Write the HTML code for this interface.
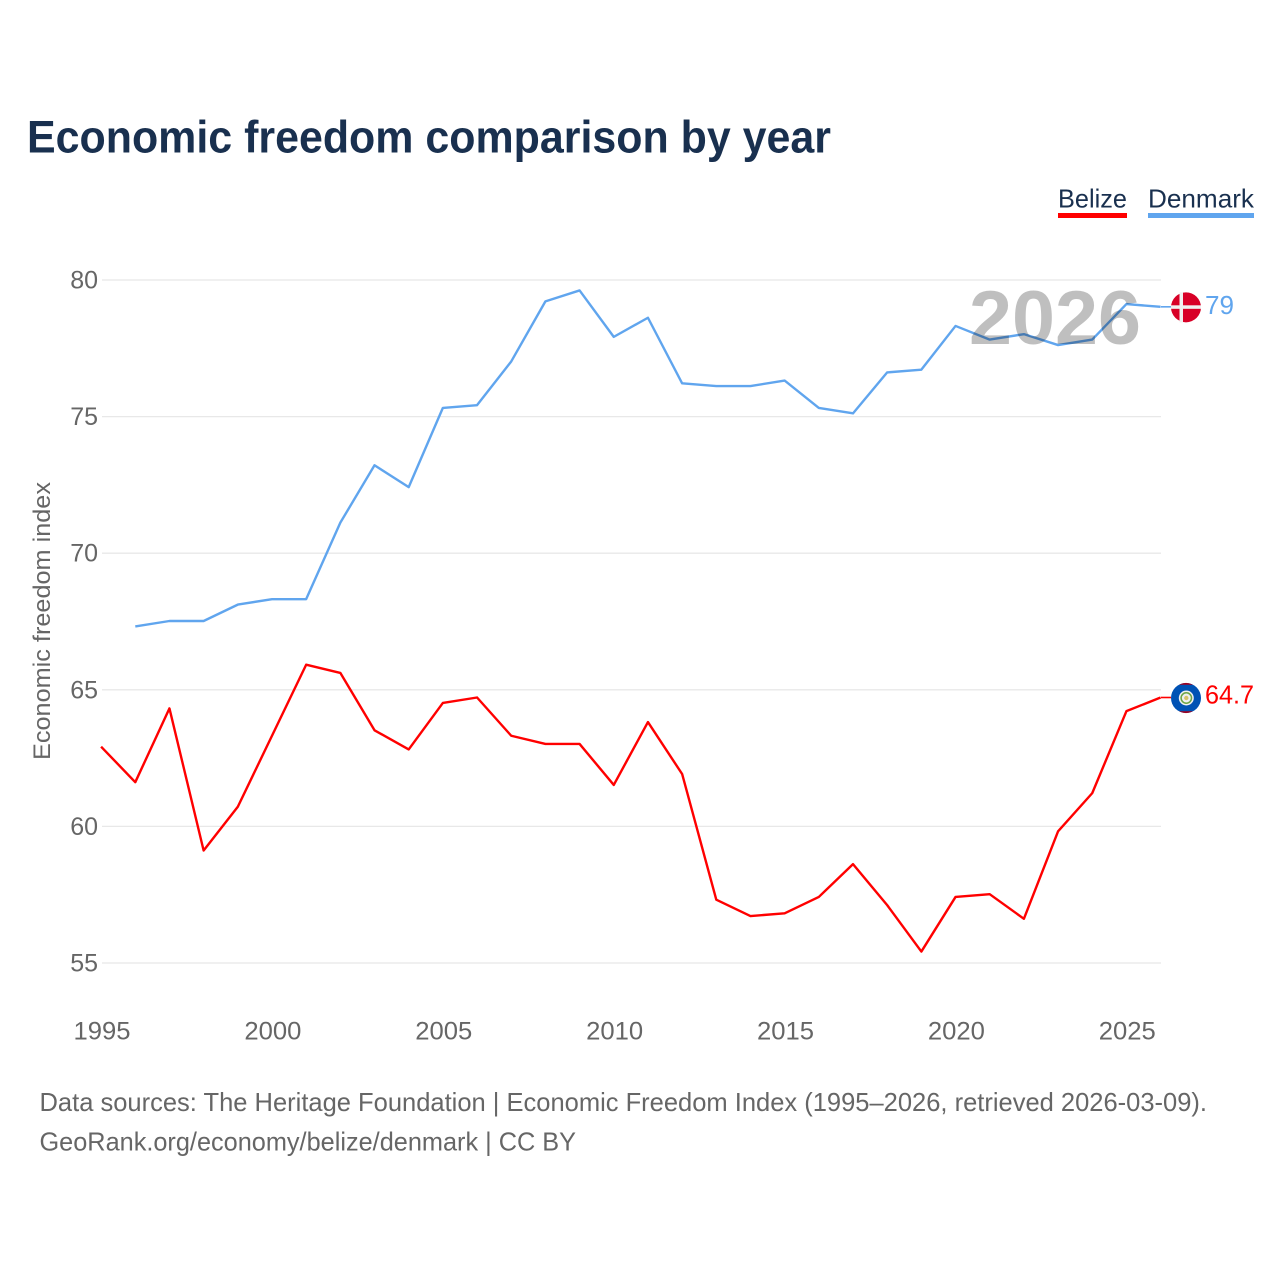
<!DOCTYPE html>
<html>
<head>
<meta charset="utf-8">
<title>Economic freedom comparison by year</title>
<style>
html,body{margin:0;padding:0;background:#fff;width:1280px;height:1280px;overflow:hidden}
svg{display:block}
text{font-family:"Liberation Sans",sans-serif}
.tick{font-size:25px;fill:#666}
.foot{font-size:26px;fill:#666}
</style>
</head>
<body>
<svg id="chart" width="1280" height="1280" viewBox="0 0 1280 1280" xmlns="http://www.w3.org/2000/svg">
<rect width="1280" height="1280" fill="#fff"/>
<text x="27" y="152.5" font-size="45" font-weight="700" fill="#19304f" textLength="804" lengthAdjust="spacingAndGlyphs">Economic freedom comparison by year</text>
<g>
<g>
<text x="1058" y="207.5" font-size="26" fill="#19304f" textLength="69" lengthAdjust="spacingAndGlyphs">Belize</text>
<rect x="1058" y="213" width="69" height="5" fill="#ff0000"/>
</g>
<g>
<text x="1148" y="207.5" font-size="26" fill="#19304f" textLength="106" lengthAdjust="spacingAndGlyphs">Denmark</text>
<rect x="1148" y="213" width="106" height="5" fill="#60a5ee"/>
</g>
</g>
<text transform="translate(50,621) rotate(-90)" text-anchor="middle" font-size="24" fill="#666" textLength="278" lengthAdjust="spacingAndGlyphs">Economic freedom index</text>
<g id="grid"></g>
<g id="yticks"></g>
<g id="xticks"></g>
<g id="series" transform="translate(-0.4,-0.5)"></g>
<text id="yearLabel" x="969" y="344" font-size="76" font-weight="700" fill="#000" fill-opacity="0.25" textLength="172" lengthAdjust="spacingAndGlyphs">2026</text>
<g id="ends"></g>
<g>
<text class="foot" x="39.5" y="1111" textLength="1167.5" lengthAdjust="spacingAndGlyphs">Data sources: The Heritage Foundation | Economic Freedom Index (1995–2026, retrieved 2026-03-09).</text>
<text class="foot" x="39.5" y="1150.5" textLength="536.5" lengthAdjust="spacingAndGlyphs">GeoRank.org/economy/belize/denmark | CC BY</text>
</g>
</svg>
<script>
const years = [1995,1996,1997,1998,1999,2000,2001,2002,2003,2004,2005,2006,2007,2008,2009,2010,2011,2012,2013,2014,2015,2016,2017,2018,2019,2020,2021,2022,2023,2024,2025,2026];
const belizeValues = [62.9,61.6,64.3,59.1,60.7,63.3,65.9,65.6,63.5,62.8,64.5,64.7,63.3,63.0,63.0,61.5,63.8,61.9,57.3,56.7,56.8,57.4,58.6,57.1,55.4,57.4,57.5,56.6,59.8,61.2,64.2,64.7];
const denmarkValues = [null,67.3,67.5,67.5,68.1,68.3,68.3,71.1,73.2,72.4,75.3,75.4,77.0,79.2,79.6,77.9,78.6,76.2,76.1,76.1,76.3,75.3,75.1,76.6,76.7,78.3,77.8,78.0,77.6,77.8,79.1,79.0];
const yTickValues = [55,60,65,70,75,80];
const xTickValues = [1995,2000,2005,2010,2015,2020,2025];

const NS = 'http://www.w3.org/2000/svg';
const xScale = function (year) { return 101.5 + (year - 1995) * (1161 - 101.5) / 31; };
const yScale = function (v) { return 280 + (80 - v) * (963 - 280) / 25; };

function make(tag, attrs, parent, content) {
  const el = document.createElementNS(NS, tag);
  Object.keys(attrs).forEach(function (k) { el.setAttribute(k, attrs[k]); });
  if (content !== undefined) el.textContent = content;
  parent.appendChild(el);
  return el;
}

const grid = document.getElementById('grid');
const yticks = document.getElementById('yticks');
yTickValues.forEach(function (v) {
  const line = make('line', {x1: 102, x2: 1161, y1: yScale(v), y2: yScale(v), stroke: '#e8e8e8', 'stroke-width': 1.3}, grid);
  
  
  const t = make('text', {x: 98, y: yScale(v) + 8.5, 'text-anchor': 'end', class: 'tick'}, yticks, String(v));
  
  
});

const xticks = document.getElementById('xticks');
xTickValues.forEach(function (y) {
  const t = make('text', {x: xScale(y) + 0.5, y: 1039.5, 'text-anchor': 'middle', class: 'tick', textLength: 57, lengthAdjust: 'spacingAndGlyphs'}, xticks, String(y));
  
  
});

function linePoints(values) {
  const pts = [];
  values.forEach(function (v, i) {
    if (v !== null) pts.push(xScale(years[i]).toFixed(2) + ',' + yScale(v).toFixed(2));
  });
  return pts.join(' ');
}

const series = document.getElementById('series');
const belizeLine = make('polyline', {points: linePoints(belizeValues), fill: 'none', stroke: '#ff0000', 'stroke-width': 2.4, 'stroke-linejoin': 'round'}, series);


const denmarkLine = make('polyline', {points: linePoints(denmarkValues), fill: 'none', stroke: '#60a5ee', 'stroke-width': 2.4, 'stroke-linejoin': 'round'}, series);



const ends = document.getElementById('ends');
const lastIdx = years.length - 1;
const endX = xScale(years[lastIdx]);
const flagX = 1186;

/* Denmark end marker */
const dy = yScale(denmarkValues[lastIdx]);
const dg = make('g', {transform: 'translate(' + flagX + ',' + dy + ')'}, ends);


const dConn = make('line', {x1: endX - flagX, x2: -15, y1: -0.5, y2: -0.5, stroke: '#60a5ee', 'stroke-width': 1.6}, dg);


make('circle', {cx: 0, cy: 0, r: 15, fill: '#d80027'}, dg);
make('rect', {x: -6.5, y: -15, width: 3.5, height: 30, fill: '#f0f0f0'}, dg);
make('rect', {x: -15, y: -2, width: 30, height: 3.5, fill: '#f0f0f0'}, dg);
const dLabel = make('text', {x: 1205, y: dy + 6.5, 'font-size': 26, fill: '#60a5ee', textLength: 29, lengthAdjust: 'spacingAndGlyphs'}, ends, String(denmarkValues[lastIdx]));



/* Belize end marker */
const by = yScale(belizeValues[lastIdx]);
const bg = make('g', {transform: 'translate(' + flagX + ',' + by + ')'}, ends);


const bConn = make('line', {x1: endX - flagX, x2: -15, y1: -0.5, y2: -0.5, stroke: '#ff0000', 'stroke-width': 1.6}, bg);


make('circle', {cx: 0, cy: 0, r: 15, fill: '#0052b4'}, bg);
make('path', {d: 'M-7,-13.3 A15,15 0 0 1 7,-13.3 Z', fill: '#a2001d'}, bg);
make('path', {d: 'M-7,13.3 A15,15 0 0 0 7,13.3 Z', fill: '#a2001d'}, bg);
make('circle', {cx: 0.3, cy: 0, r: 7.5, fill: '#f0f0f0'}, bg);
make('circle', {cx: 0.3, cy: 0, r: 5.2, fill: 'none', stroke: '#6da544', 'stroke-width': 1.5}, bg);
make('circle', {cx: 0.3, cy: 0, r: 2.2, fill: '#d8c36a'}, bg);
const bLabel = make('text', {x: 1205, y: by + 5.5, 'font-size': 26, fill: '#ff0000', textLength: 49, lengthAdjust: 'spacingAndGlyphs'}, ends, String(belizeValues[lastIdx]));


</script>
</body>
</html>
